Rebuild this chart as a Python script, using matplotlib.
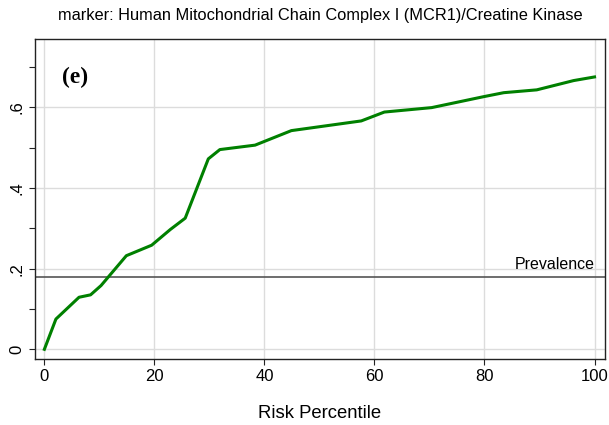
import matplotlib.pyplot as plt
import matplotlib.ticker as mticker

plt.rcParams['font.family'] = ['Liberation Sans', 'DejaVu Sans']

# Predictiveness curve: risk percentile vs. estimated risk
percentile = [0, 2.1, 6.3, 8.4, 10.3, 14.9, 19.5, 22.9, 25.6, 29.8, 31.9,
              38.3, 44.9, 57.6, 61.8, 70.4, 79.8, 83.5, 89.5, 96.2, 100]
risk = [0.0, 0.075, 0.129, 0.135, 0.158, 0.232, 0.258, 0.297, 0.325, 0.472, 0.495,
        0.506, 0.542, 0.566, 0.588, 0.599, 0.626, 0.636, 0.643, 0.666, 0.675]
prevalence = 0.18

x_ticks = [0, 20, 40, 60, 80, 100]
y_ticks = [0, 0.2, 0.4, 0.6]
y_tick_labels = ['0', '.2', '.4', '.6']
y_minor = [0.1, 0.3, 0.5, 0.7]

fig = plt.figure(figsize=(6.09, 4.25), dpi=100)
ax = fig.add_axes([0.0575, 0.1553, 0.9359, 0.7529])

ax.plot(percentile, risk, color='#008000', linewidth=2.2, zorder=3)
ax.axhline(prevalence, color='#555555', linewidth=1.2, zorder=2)
ax.text(100, prevalence + 0.012, 'Prevalence', ha='right', va='bottom', fontsize=11.5)

ax.set_xlim(-1.7, 101.9)
ax.set_ylim(-0.024, 0.769)
ax.set_xticks(x_ticks)
ax.set_yticks(y_ticks)
ax.set_yticklabels(y_tick_labels, rotation=90, va='center')
ax.yaxis.set_minor_locator(mticker.FixedLocator(y_minor))
ax.tick_params(axis='both', which='major', labelsize=12, length=4, width=0.8, color='#222222')
ax.tick_params(axis='y', which='minor', length=4, width=0.8, color='#222222')
ax.grid(True, which='major', color='#dcdcdc', linewidth=1)
ax.set_axisbelow(True)
for s in ax.spines.values():
    s.set_color('#222222')
    s.set_linewidth(1.0)

ax.set_xlabel('Risk Percentile', fontsize=13.3, labelpad=15)
ax.set_title('marker: Human Mitochondrial Chain Complex I (MCR1)/Creatine Kinase',
             fontsize=11.8, pad=14)
ax.text(0.047, 0.88, '(e)', transform=ax.transAxes, fontsize=17, fontweight='bold',
        family='Liberation Serif', ha='left', va='center')

fig.savefig('out.png', dpi=100)
